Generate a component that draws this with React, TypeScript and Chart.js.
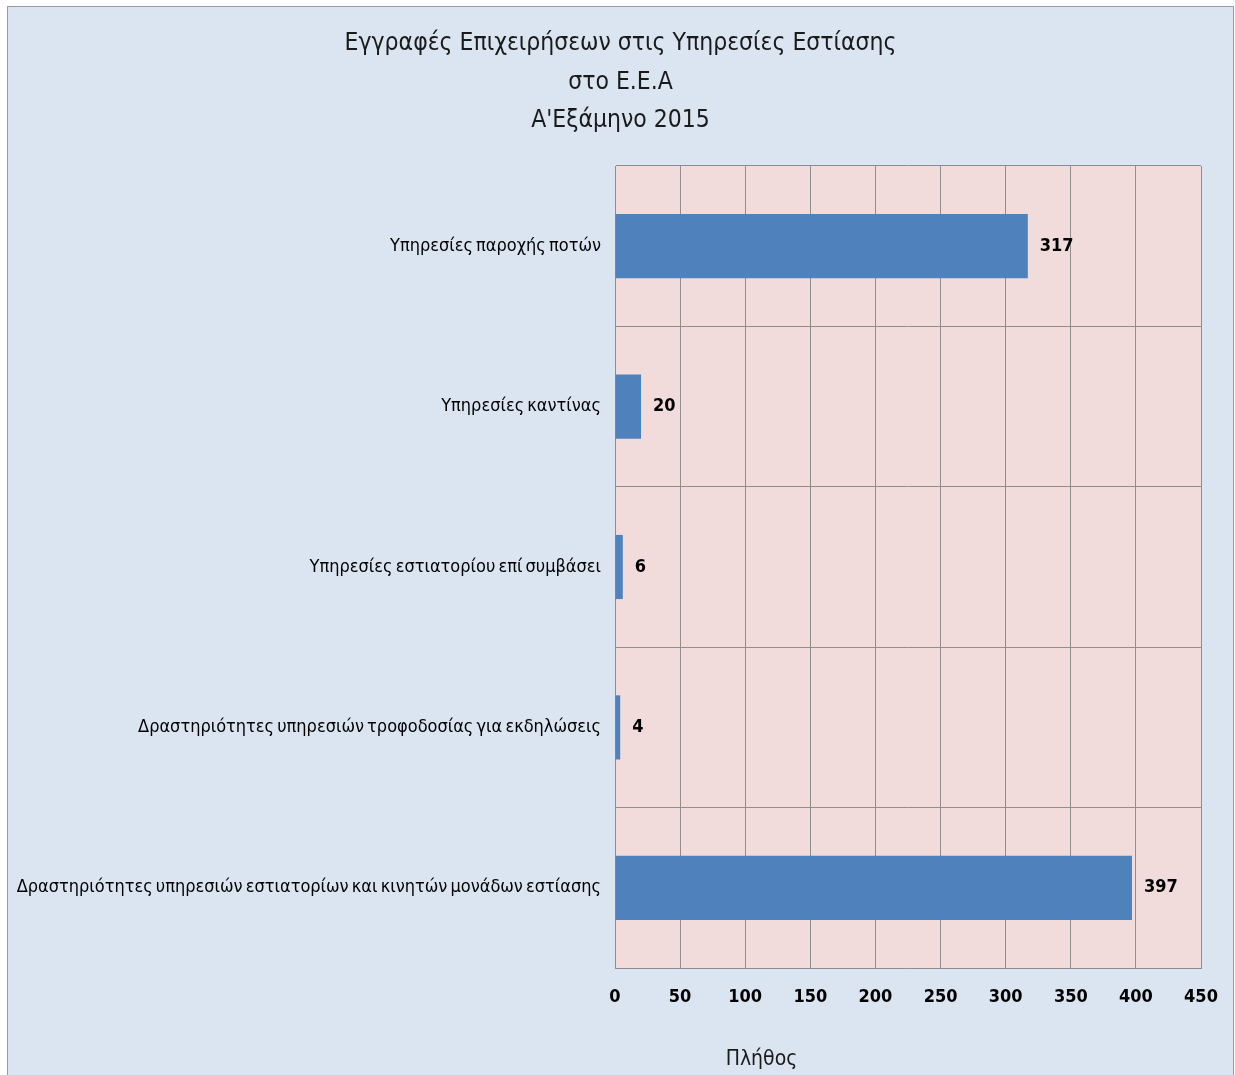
import React, { useEffect, useRef } from 'react';
import { Chart, registerables } from 'chart.js';

Chart.register(...registerables);

const categories: string[] = [
  'Υπηρεσίες παροχής ποτών',
  'Υπηρεσίες καντίνας',
  'Υπηρεσίες εστιατορίου επί συμβάσει',
  'Δραστηριότητες υπηρεσιών τροφοδοσίας για εκδηλώσεις',
  'Δραστηριότητες υπηρεσιών εστιατορίων και κινητών μονάδων εστίασης',
];
const values: number[] = [317, 20, 6, 4, 397];
const xMin = 0;
const xMax = 450;
const xStep = 50;
const titleLines: string[] = [
  'Εγγραφές Επιχειρήσεων στις Υπηρεσίες Εστίασης',
  'στο Ε.Ε.Α',
  "Α'Εξάμηνο 2015",
];
const xAxisTitle = 'Πλήθος';

const FONT = '"DejaVu Sans Condensed", "DejaVu Sans", sans-serif';
const CANVAS_W = 1225;
const CANVAS_H = 1068;

const plotBg = {
  id: 'plotBg',
  beforeDraw(chart: any) {
    const { ctx, chartArea } = chart;
    ctx.save();
    ctx.fillStyle = '#f2dcdb';
    ctx.fillRect(chartArea.left, chartArea.top, chartArea.right - chartArea.left, chartArea.bottom - chartArea.top);
    ctx.restore();
    // tighter word spacing for axis category labels
    (ctx as any).wordSpacing = '-2px';
  },
};

const titlePlugin = {
  id: 'customTitle',
  afterDraw(chart: any) {
    const { ctx } = chart;
    ctx.save();
    (ctx as any).wordSpacing = '0px';
    ctx.font = `24.5px ${FONT}`;
    ctx.fillStyle = '#1a1a1a';
    ctx.textAlign = 'center';
    ctx.textBaseline = 'middle';
    const cx = chart.width / 2;
    titleLines.forEach((line, i) => {
      ctx.fillText(line, cx, 37 + i * 38.5);
    });
    ctx.restore();
  },
};

const valueLabels = {
  id: 'valueLabels',
  afterDatasetsDraw(chart: any) {
    const { ctx } = chart;
    const meta = chart.getDatasetMeta(0);
    ctx.save();
    (ctx as any).wordSpacing = '0px';
    ctx.font = `bold 18px ${FONT}`;
    ctx.fillStyle = '#000000';
    ctx.textAlign = 'left';
    ctx.textBaseline = 'middle';
    meta.data.forEach((el: any, i: number) => {
      ctx.fillText(String(values[i]), el.x + 12, el.y);
    });
    ctx.restore();
  },
};

const xTitlePlugin = {
  id: 'xTitlePlugin',
  afterDraw(chart: any) {
    const { ctx, chartArea } = chart;
    ctx.save();
    (ctx as any).wordSpacing = '0px';
    ctx.font = `21px ${FONT}`;
    ctx.fillStyle = '#1a1a1a';
    ctx.textAlign = 'center';
    ctx.textBaseline = 'middle';
    const x = chartArea.left + (chartArea.right - chartArea.left) * 0.25;
    ctx.fillText(xAxisTitle, x, chartArea.bottom + 92);
    ctx.restore();
  },
};

export default function App() {
  const ref = useRef<HTMLCanvasElement | null>(null);

  useEffect(() => {
    if (!ref.current) return;
    const chart = new Chart(ref.current, {
      type: 'bar',
      data: {
        labels: categories,
        datasets: [
          {
            data: values,
            backgroundColor: '#4f81bd',
            borderWidth: 0,
            barPercentage: 0.8,
            categoryPercentage: 0.5,
          },
        ],
      },
      options: {
        indexAxis: 'y',
        responsive: false,
        animation: false,
        devicePixelRatio: 1,
        layout: { padding: { left: 0, right: 32, top: 159, bottom: 0 } },
        plugins: {
          legend: { display: false },
          tooltip: { enabled: false },
          title: { display: false },
        },
        scales: {
          x: {
            type: 'linear',
            min: xMin,
            max: xMax,
            ticks: {
              stepSize: xStep,
              color: '#000000',
              font: { family: FONT, size: 18, weight: 'bold', lineHeight: 2.1 },
              padding: 10,
              maxRotation: 0,
            },
            grid: { color: '#8e8e8e', lineWidth: 1, drawTicks: false },
            border: { color: '#8e8e8e', width: 1 },
            afterFit: (scale: any) => {
              scale.height = 107;
            },
          },
          y: {
            type: 'category',
            ticks: {
              color: '#000000',
              font: { family: FONT, size: 18, weight: 'normal' },
              padding: 14,
            },
            grid: { color: '#8e8e8e', lineWidth: 1, drawTicks: false, offset: true },
            border: { color: '#8e8e8e', width: 1 },
            afterFit: (scale: any) => {
              scale.width = 607;
            },
          },
        },
      } as any,
      plugins: [plotBg, valueLabels, xTitlePlugin, titlePlugin],
    });
    return () => chart.destroy();
  }, []);

  return (
    <div style={{ position: 'absolute', left: 0, top: 0, width: 1235, height: 1075, background: '#ffffff', overflow: 'hidden' }}>
      <div
        style={{
          position: 'absolute',
          left: 7,
          top: 6,
          width: 1225,
          height: 1100,
          background: '#dbe5f1',
          border: '1px solid #9a9a9a',
        }}
      >
        <canvas ref={ref} width={CANVAS_W} height={CANVAS_H} style={{ display: 'block', width: CANVAS_W, height: CANVAS_H }} />
      </div>
    </div>
  );
}
